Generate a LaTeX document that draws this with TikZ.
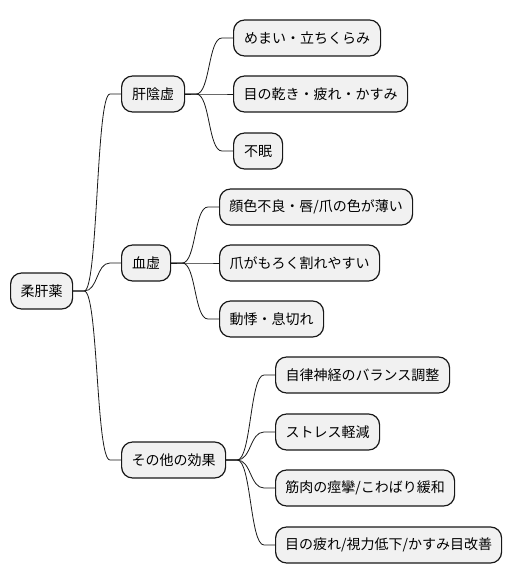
\documentclass[tikz,border=0pt]{standalone}
\usepackage{fontspec}
\setmainfont{Noto Sans CJK JP}
\usepackage{xcolor}
\usepackage{tikz}
\definecolor{boxfill}{HTML}{F1F1F1}
\definecolor{boxline}{HTML}{181818}

\begin{document}
\begin{tikzpicture}[x=1pt,y=-1pt,
    box/.style={draw=boxline,fill=boxfill,line width=1.2pt,rounded corners=11pt,minimum height=36pt,inner xsep=0pt,anchor=west,font=\fontsize{14pt}{16pt}\selectfont},
    link/.style={draw=boxline,line width=0.8pt}]
    \useasboundingbox (0,0) rectangle (512,583);
    \node[box,minimum width=62pt] (root) at (10,291){柔肝薬};
    \node[box,minimum width=63pt] (kan) at (121,94){肝陰虚};
    \node[box,minimum width=49pt] (ketsu) at (121,263){血虚};
    \node[box,minimum width=104pt] (other) at (121,460){その他の効果};
    \node[box,minimum width=147pt] (k1) at (233,38){めまい・立ちくらみ};
    \node[box,minimum width=174pt] (k2) at (233,94){目の乾き・疲れ・かすみ};
    \node[box,minimum width=49pt] (k3) at (233,151){不眠};
    \node[box,minimum width=193pt] (b1) at (219,207){顔色不良・唇/爪の色が薄い};
    \node[box,minimum width=160pt] (b2) at (219,263){爪がもろく割れやすい};
    \node[box,minimum width=104pt] (b3) at (219,319){動悸・息切れ};
    \node[box,minimum width=174pt] (o1) at (275,375){自律神経のバランス調整};
    \node[box,minimum width=104pt] (o2) at (275,432){ストレス軽減};
    \node[box,minimum width=179pt] (o3) at (275,488){筋肉の痙攣/こわばり緩和};
    \node[box,minimum width=226pt] (o4) at (275,545){目の疲れ/視力低下/かすみ目改善};
    \foreach \a/\b in {root/kan,root/ketsu,root/other,kan/k1,kan/k2,kan/k3,ketsu/b1,ketsu/b2,ketsu/b3,other/o1,other/o2,other/o3,other/o4}
        \draw[link] (\a.east) -- ++(11,0) .. controls +(14,0) and +(-14,0) .. ([xshift=-11pt]\b.west) -- (\b.west);
\end{tikzpicture}
\end{document}
